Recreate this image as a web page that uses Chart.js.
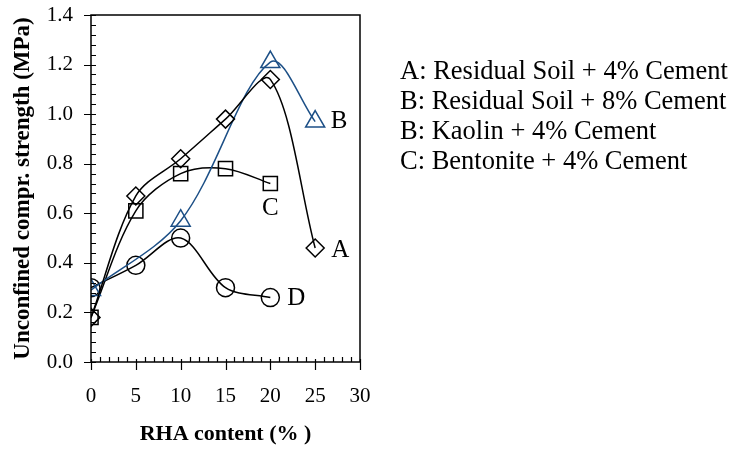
<!DOCTYPE html>
<html>
<head>
<meta charset="utf-8">
<script src="https://cdn.jsdelivr.net/npm/chart.js@4"></script>
<style>
  html, body { margin: 0; padding: 0; background: #fff; }
  #wrap { width: 742px; height: 451px; position: relative; }
</style>
</head>
<body>
<div id="wrap"><canvas id="chart" width="742" height="451"></canvas></div>
<script>
// RHA content (%) vs unconfined compressive strength (MPa)
const xA = [0, 5, 10, 15, 20, 25];
const yA = [0.18, 0.67, 0.82, 0.98, 1.14, 0.46];   // Residual soil + 4% cement
const xB = [0, 10, 20, 25];
const yB = [0.29, 0.57, 1.21, 0.97];               // Residual soil + 8% cement
const xC = [0, 5, 10, 15, 20];
const yC = [0.18, 0.61, 0.76, 0.78, 0.72];         // Kaolin + 4% cement
const xD = [0, 5, 10, 15, 20];
const yD = [0.30, 0.39, 0.50, 0.30, 0.26];         // Bentonite + 4% cement

const legendLines = [
  'A: Residual Soil + 4% Cement',
  'B: Residual Soil + 8% Cement',
  'B: Kaolin + 4% Cement',
  'C: Bentonite + 4% Cement'
];
const curveTags = ['A', 'B', 'C', 'D'];

const xMin = 0, xMax = 30, xStep = 5, xMinor = 1;
const yMin = 0, yMax = 1.4, yStep = 0.2, yMinor = 0.04;

const SERIF = '"Liberation Serif", "Times New Roman", serif';
const BLUE = '#1c4f86';

const toPts = (xs, ys) => xs.map((x, i) => ({ x, y: ys[i] }));

function series(label, xs, ys, color, style, radius){
  return {
    label,
    data: toPts(xs, ys),
    borderColor: color,
    borderWidth: 1.5,
    backgroundColor: 'transparent',
    pointStyle: style,
    pointRadius: radius,
    pointBorderColor: color,
    pointBackgroundColor: 'rgba(0,0,0,0)',
    pointBorderWidth: 1.5,
    tension: 0.33,
    fill: false
  };
}

// frame, ticks, curve labels and the text legend
const decorPlugin = {
  id: 'decor',
  afterDraw(chart){
    const { ctx, chartArea: a, scales: { x, y } } = chart;
    ctx.save();
    ctx.strokeStyle = '#000';
    ctx.lineWidth = 1.5;
    ctx.strokeRect(a.left, a.top, a.right - a.left, a.bottom - a.top);

    ctx.lineWidth = 1.2;
    ctx.beginPath();
    // x ticks: minors inward, majors outward
    for(let v = xMin; v <= xMax + 1e-9; v += xMinor){
      const px = Math.round(x.getPixelForValue(v)) + 0.5;
      const major = Math.abs(v / xStep - Math.round(v / xStep)) < 1e-6;
      if(major){ ctx.moveTo(px, a.bottom - 3); ctx.lineTo(px, a.bottom + 8); }
      else { ctx.moveTo(px, a.bottom); ctx.lineTo(px, a.bottom - 5); }
    }
    // y ticks
    for(let v = yMin; v <= yMax + 1e-9; v += yMinor){
      const py = Math.round(y.getPixelForValue(v)) + 0.5;
      const major = Math.abs(v / yStep - Math.round(v / yStep)) < 1e-6;
      if(major){ ctx.moveTo(a.left - 7, py); ctx.lineTo(a.left + 5, py); }
      else { ctx.moveTo(a.left, py); ctx.lineTo(a.left + 5, py); }
    }
    ctx.stroke();

    // curve tags next to the last points
    ctx.fillStyle = '#000';
    ctx.font = '25px ' + SERIF;
    ctx.textBaseline = 'middle';
    ctx.textAlign = 'center';
    const tagAt = (xs, ys, dx, dy, t) => {
      const n = xs.length - 1;
      ctx.fillText(t, x.getPixelForValue(xs[n]) + dx, y.getPixelForValue(ys[n]) + dy);
    };
    tagAt(xA, yA, 25, 2, curveTags[0]);
    tagAt(xB, yB, 24, 0, curveTags[1]);
    tagAt(xC, yC, 0, 25, curveTags[2]);
    tagAt(xD, yD, 26, 1, curveTags[3]);

    // legend text on the right
    ctx.textAlign = 'left';
    ctx.font = '26.5px ' + SERIF;
    legendLines.forEach((t, i) => ctx.fillText(t, 400, 72 + i * 30));
    ctx.restore();
  }
};

new Chart(document.getElementById('chart'), {
  type: 'line',
  data: {
    datasets: [
      series('A', xA, yA, '#000', 'rectRot', 9),
      series('B', xB, yB, BLUE, 'triangle', 11),
      series('C', xC, yC, '#000', 'rect', 10),
      series('D', xD, yD, '#000', 'circle', 9)
    ]
  },
  options: {
    responsive: false,
    animation: false,
    layout: { padding: { top: 15, right: 382, left: 0, bottom: 0 } },
    plugins: { legend: { display: false }, tooltip: { enabled: false } },
    scales: {
      x: {
        type: 'linear',
        min: xMin, max: xMax,
        grid: { display: false, drawTicks: false },
        border: { display: false },
        afterFit(s){ s.height = 89; s.paddingLeft = 0; s.paddingRight = 0; },
        ticks: {
          stepSize: xStep,
          padding: 22,
          color: '#000',
          font: { family: SERIF, size: 21 },
          maxRotation: 0
        },
        title: {
          display: true,
          text: 'RHA content (% )',
          color: '#000',
          font: { family: SERIF, size: 22, weight: 'bold' },
          padding: { top: 0, bottom: 3 }
        }
      },
      y: {
        min: yMin, max: yMax,
        grid: { display: false, drawTicks: false },
        border: { display: false },
        afterFit(s){ s.width = 91; s.paddingTop = 0; s.paddingBottom = 0; },
        ticks: {
          stepSize: yStep,
          padding: 18,
          color: '#000',
          font: { family: SERIF, size: 21 },
          callback: v => Number(v).toFixed(1)
        },
        title: {
          display: true,
          text: 'Unconfined compr. strength (MPa)',
          color: '#000',
          font: { family: SERIF, size: 23, weight: 'bold' },
          padding: { top: 9, bottom: 0 }
        }
      }
    }
  },
  plugins: [decorPlugin]
});
</script>
</body>
</html>
